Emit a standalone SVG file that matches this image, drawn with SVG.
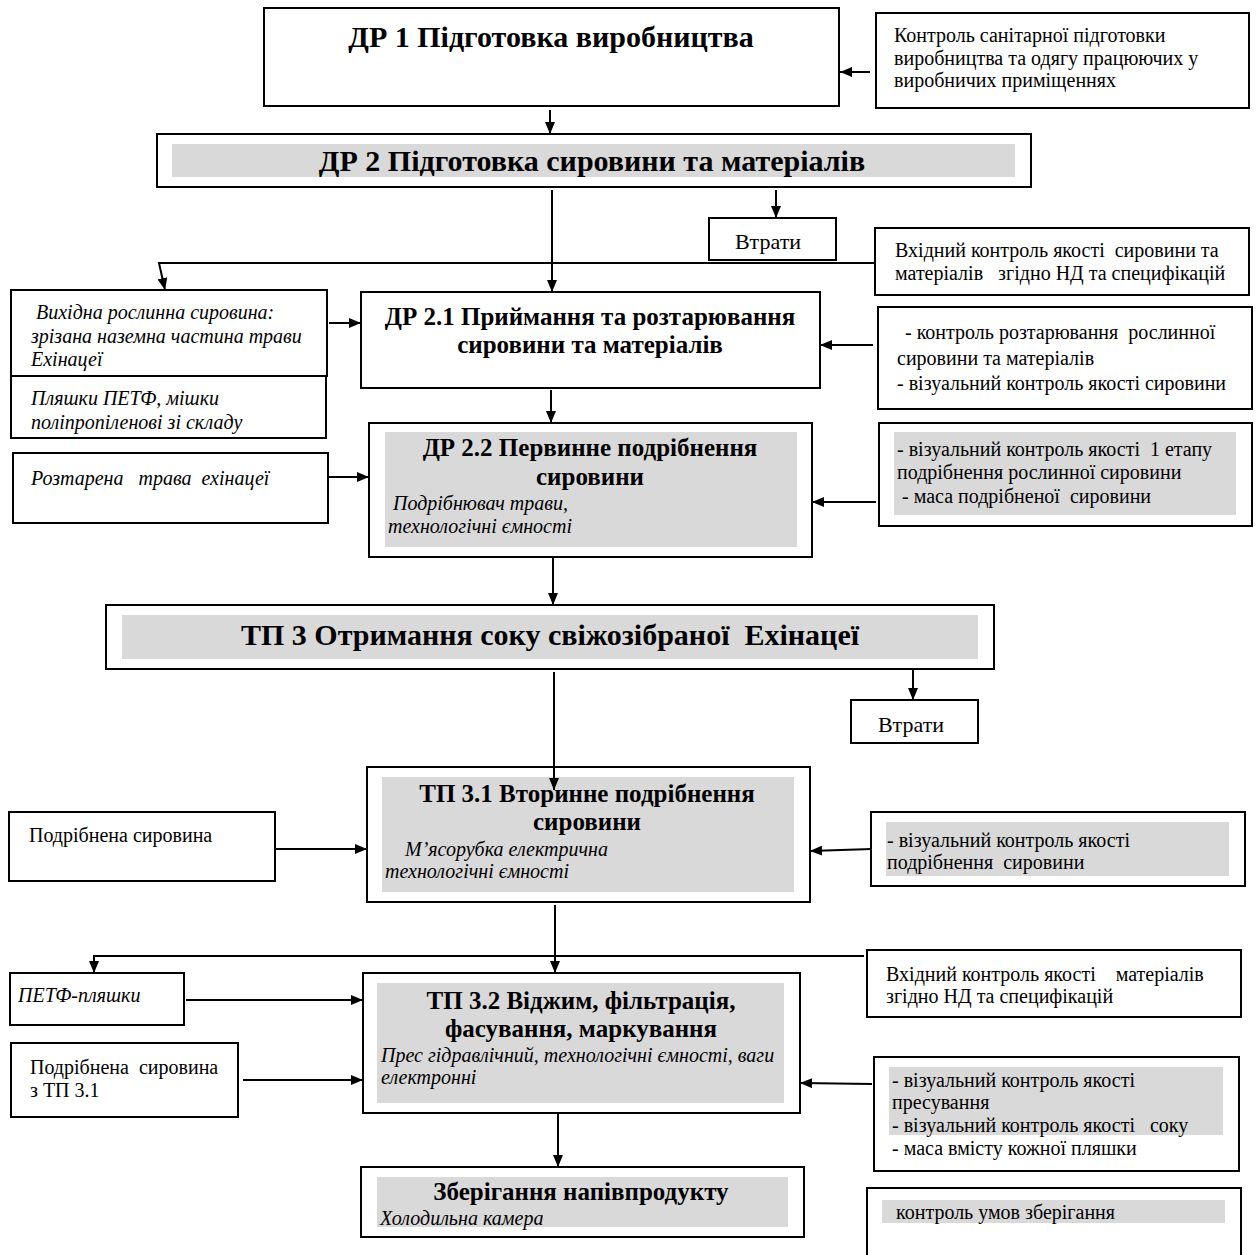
<svg xmlns="http://www.w3.org/2000/svg" width="1259" height="1255" viewBox="0 0 1259 1255">
<defs>
<style>
.box{fill:#fff;stroke:#000;stroke-width:2}
.gray{fill:#d9d9d9;stroke:none}
text{white-space:pre;font-family:"Liberation Serif","Times New Roman",serif;fill:#000}
.t{font-size:20px}
.i{font-size:20px;font-style:italic}
.h1{font-size:30px;font-weight:bold;text-anchor:middle}
.h2{font-size:25px;font-weight:bold;text-anchor:middle}
.loss{font-size:22px;text-anchor:middle}
.c{fill:none;stroke:#000;stroke-width:2}
.a{marker-end:url(#arr)}
</style>
<marker id="arr" markerWidth="12" markerHeight="10" refX="12" refY="5" orient="auto" markerUnits="userSpaceOnUse">
<path d="M0,0 L12,5 L0,10 z" fill="#000"/>
</marker>
</defs>
<rect width="1259" height="1255" fill="#fff"/>

<g id="dr1">
<rect class="box" x="264" y="8" width="575" height="98"/>
<text class="h1" x="551" y="47">ДР 1 Підготовка виробництва</text>
</g>
<g id="ctrl1">
<rect class="box" x="876" y="13" width="373" height="95"/>
<text class="t" x="894" y="42">Контроль санітарної підготовки</text>
<text class="t" x="894" y="65">виробництва та одягу працюючих у</text>
<text class="t" x="894" y="87">виробничих приміщеннях</text>
</g>
<g id="dr2">
<rect class="box" x="157" y="134" width="874" height="53"/>
<rect class="gray" x="172" y="144" width="843" height="33"/>
<text class="h1" x="592" y="171">ДР 2 Підготовка сировини та матеріалів</text>
</g>
<g id="loss1">
<rect class="box" x="709" y="218" width="127" height="42"/>
<text class="loss" x="768" y="249">Втрати</text>
</g>
<g id="inctrl1">
<rect class="box" x="875" y="228" width="374" height="67"/>
<text class="t" x="895" y="257">Вхідний контроль якості  сировини та</text>
<text class="t" x="895" y="280">матеріалів   згідно НД та специфікацій</text>
</g>
<g id="raw1">
<rect class="box" x="11" y="290" width="316" height="86"/>
<text class="i" x="36" y="319">Вихідна рослинна сировина:</text>
<text class="i" x="31" y="343">зрізана наземна частина трави</text>
<text class="i" x="31" y="366">Ехінацеї</text>
</g>
<g id="raw2">
<rect class="box" x="11" y="376" width="315" height="62"/>
<text class="i" x="31" y="405">Пляшки ПЕТФ, мішки</text>
<text class="i" x="31" y="429">поліпропіленові зі складу</text>
</g>
<g id="dr21">
<rect class="box" x="361" y="292" width="459" height="96"/>
<text class="h2" x="590" y="325">ДР 2.1 Приймання та розтарювання</text>
<text class="h2" x="590" y="353">сировини та матеріалів</text>
</g>
<g id="ctrl21">
<rect class="box" x="878" y="307" width="374" height="102"/>
<text class="t" x="905" y="339">- контроль розтарювання  рослинної</text>
<text class="t" x="897" y="365">сировини та матеріалів</text>
<text class="t" x="897" y="390">- візуальний контроль якості сировини</text>
</g>
<g id="razt">
<rect class="box" x="13" y="453" width="315" height="70"/>
<text class="i" x="31" y="485">Розтарена   трава  ехінацеї</text>
</g>
<g id="dr22">
<rect class="box" x="369" y="423" width="443" height="134"/>
<rect class="gray" x="385" y="432" width="412" height="115"/>
<text class="h2" x="590" y="456">ДР 2.2 Первинне подрібнення</text>
<text class="h2" x="590" y="485">сировини</text>
<text class="i" x="393" y="510">Подрібнювач трави,</text>
<text class="i" x="388" y="533">технологічні ємності</text>
</g>
<g id="ctrl22">
<rect class="box" x="879" y="423" width="373" height="103"/>
<rect class="gray" x="894" y="432" width="342" height="83"/>
<text class="t" x="897" y="456">- візуальний контроль якості  1 етапу</text>
<text class="t" x="897" y="479">подрібнення рослинної сировини</text>
<text class="t" x="902" y="503">- маса подрібненої  сировини</text>
</g>
<g id="tp3">
<rect class="box" x="106" y="605" width="888" height="64"/>
<rect class="gray" x="122" y="615" width="856" height="44"/>
<text class="h1" x="550" y="645">ТП 3 Отримання соку свіжозібраної  Ехінацеї</text>
</g>
<g id="loss2">
<rect class="box" x="851" y="700" width="127" height="43"/>
<text class="loss" x="911" y="732">Втрати</text>
</g>
<g id="grind">
<rect class="box" x="9" y="812" width="266" height="69"/>
<text class="t" x="29" y="842">Подрібнена сировина</text>
</g>
<g id="tp31">
<rect class="box" x="367" y="767" width="443" height="135"/>
<rect class="gray" x="382" y="777" width="412" height="115"/>
<text class="h2" x="587" y="802">ТП 3.1 Вторинне подрібнення</text>
<text class="h2" x="587" y="830">сировини</text>
<text class="i" x="405" y="856">М’ясорубка електрична</text>
<text class="i" x="385" y="878">технологічні ємності</text>
</g>
<g id="ctrl31">
<rect class="box" x="871" y="812" width="374" height="74"/>
<rect class="gray" x="886" y="822" width="343" height="54"/>
<text class="t" x="887" y="847">- візуальний контроль якості</text>
<text class="t" x="887" y="869">подрібнення  сировини</text>
</g>
<g id="petf">
<rect class="box" x="10" y="973" width="174" height="52"/>
<text class="i" x="18" y="1002">ПЕТФ-пляшки</text>
</g>
<g id="grind2">
<rect class="box" x="11" y="1043" width="227" height="74"/>
<text class="t" x="30" y="1074">Подрібнена  сировина</text>
<text class="t" x="30" y="1097">з ТП 3.1</text>
</g>
<g id="inctrl2">
<rect class="box" x="867" y="950" width="374" height="67"/>
<text class="t" x="886" y="981">Вхідний контроль якості    матеріалів</text>
<text class="t" x="886" y="1003">згідно НД та специфікацій</text>
</g>
<g id="tp32">
<rect class="box" x="363" y="973" width="437" height="140"/>
<rect class="gray" x="377" y="983" width="407" height="120"/>
<text class="h2" x="581" y="1009">ТП 3.2 Віджим, фільтрація,</text>
<text class="h2" x="581" y="1037">фасування, маркування</text>
<text class="i" x="381" y="1062">Прес гідравлічний, технологічні ємності, ваги</text>
<text class="i" x="381" y="1084">електронні</text>
</g>
<g id="ctrl32">
<rect class="box" x="874" y="1057" width="365" height="114"/>
<rect class="gray" x="889" y="1067" width="334" height="68"/>
<text class="t" x="892" y="1087">- візуальний контроль якості</text>
<text class="t" x="892" y="1109">пресування</text>
<text class="t" x="892" y="1132">- візуальний контроль якості   соку</text>
<text class="t" x="892" y="1155">- маса вмісту кожної пляшки</text>
</g>
<g id="store">
<rect class="box" x="361" y="1167" width="443" height="70"/>
<rect class="gray" x="377" y="1177" width="411" height="50"/>
<text class="h2" x="581" y="1200">Зберігання напівпродукту</text>
<text class="i" x="380" y="1225">Холодильна камера</text>
</g>
<g id="ctrlstore">
<rect class="box" x="867" y="1188" width="374" height="70"/>
<rect class="gray" x="882" y="1200" width="343" height="23"/>
<text class="t" x="896" y="1219">контроль умов зберігання</text>
</g>

<g id="connectors">
<line class="c a" x1="870" y1="72" x2="840" y2="72"/>
<line class="c a" x1="550" y1="110" x2="550" y2="134"/>
<line class="c a" x1="776" y1="190" x2="776" y2="218"/>
<line class="c a" x1="552" y1="190" x2="552" y2="292"/>
<path class="c a" d="M876,263 H159 L165,290"/>
<line class="c a" x1="329" y1="323" x2="361" y2="323"/>
<line class="c a" x1="873" y1="345" x2="820" y2="345"/>
<line class="c a" x1="551" y1="390" x2="551" y2="423"/>
<line class="c a" x1="329" y1="477" x2="369" y2="477"/>
<line class="c a" x1="876" y1="502" x2="812" y2="502"/>
<line class="c a" x1="553" y1="558" x2="553" y2="605"/>
<line class="c a" x1="913" y1="669" x2="913" y2="700"/>
<line class="c a" x1="554" y1="672" x2="554" y2="790"/>
<line class="c a" x1="276" y1="849" x2="367" y2="849"/>
<line class="c a" x1="872" y1="849" x2="810" y2="851"/>
<line class="c a" x1="555" y1="905" x2="555" y2="973"/>
<path class="c a" d="M864,956 H94 V973"/>
<line class="c a" x1="186" y1="1000" x2="363" y2="1000"/>
<line class="c a" x1="243" y1="1080" x2="363" y2="1080"/>
<line class="c a" x1="872" y1="1084" x2="800" y2="1083"/>
<line class="c a" x1="558" y1="1114" x2="558" y2="1167"/>
</g>
</svg>
